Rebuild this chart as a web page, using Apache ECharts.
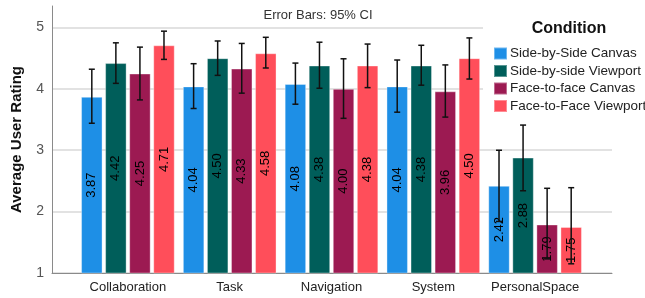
<!DOCTYPE html>
<html>
<head>
<meta charset="utf-8">
<script src="https://cdn.jsdelivr.net/npm/echarts@6/dist/echarts.min.js"></script>
<style>
  html, body { margin: 0; padding: 0; background: #fff; }
  #chart { width: 645px; height: 298px; }
</style>
</head>
<body>
<div id="chart"></div>
<script>
// categories and condition names
const categories = ['Collaboration', 'Task', 'Navigation', 'System', 'PersonalSpace'];
const conditions = ['Side-by-Side Canvas', 'Side-by-side Viewport', 'Face-to-face Canvas', 'Face-to-Face Viewport'];
const colors = ['#1e8fe6', '#005e5a', '#9c1a52', '#ff4e5a'];

// mean ratings per condition
const sbsCanvas = [3.87, 4.04, 4.08, 4.04, 2.42];
const sbsViewport = [4.42, 4.50, 4.38, 4.38, 2.88];
const f2fCanvas = [4.25, 4.33, 4.00, 3.96, 1.79];
const f2fViewport = [4.71, 4.58, 4.38, 4.50, 1.75];

// 95% CI bounds
const sbsCanvasLow = [3.44, 3.68, 3.75, 3.62, 1.84];
const sbsCanvasHigh = [4.32, 4.41, 4.42, 4.47, 3.00];
const sbsViewportLow = [4.09, 4.22, 4.01, 4.06, 2.34];
const sbsViewportHigh = [4.75, 4.78, 4.76, 4.71, 3.41];
const f2fCanvasLow = [3.82, 3.93, 3.52, 3.54, 1.23];
const f2fCanvasHigh = [4.68, 4.74, 4.49, 4.39, 2.38];
const f2fViewportLow = [4.48, 4.34, 4.02, 4.16, 1.15];
const f2fViewportHigh = [4.94, 4.84, 4.73, 4.83, 2.39];

const means = [sbsCanvas, sbsViewport, f2fCanvas, f2fViewport];
const lows = [sbsCanvasLow, sbsViewportLow, f2fCanvasLow, f2fViewportLow];
const highs = [sbsCanvasHigh, sbsViewportHigh, f2fCanvasHigh, f2fViewportHigh];

const FONT = '"Liberation Sans", Arial, sans-serif';
const CAT_GAP = 0.08, BAR_GAP = 0.12;

const chart = echarts.init(document.getElementById('chart'));

const barSeries = conditions.map((name, k) => ({
  name: name,
  type: 'bar',
  xAxisIndex: 1,
  yAxisIndex: 1,
  data: means[k],
  barGap: (BAR_GAP * 100) + '%',
  barCategoryGap: (CAT_GAP * 100) + '%',
  itemStyle: { color: colors[k], borderColor: 'rgba(255,255,255,0.35)', borderWidth: 1 },
  label: {
    show: true,
    position: 'inside',
    rotate: 90,
    fontFamily: FONT,
    fontSize: 13,
    color: '#000',
    formatter: p => p.value.toFixed(2)
  },
  z: 2
}));

const errSeries = conditions.map((name, k) => ({
  type: 'custom',
  xAxisIndex: 1,
  yAxisIndex: 1,
  z: 5,
  data: categories.map((c, i) => [i, lows[k][i], highs[k][i]]),
  renderItem: (params, api) => {
    const i = api.value(0);
    const band = api.size([1, 0])[0];
    const bw = band * (1 - CAT_GAP) / (4 + 3 * BAR_GAP);
    const off = (k - 1.5) * bw * (1 + BAR_GAP);
    const hi = api.coord([i, api.value(2)]);
    const lo = api.coord([i, api.value(1)]);
    const x = hi[0] + off;
    const cap = 3;
    const style = { stroke: '#111', lineWidth: 1.5 };
    return {
      type: 'group',
      children: [
        { type: 'line', shape: { x1: x, y1: hi[1], x2: x, y2: lo[1] }, style: style },
        { type: 'line', shape: { x1: x - cap, y1: hi[1], x2: x + cap, y2: hi[1] }, style: style },
        { type: 'line', shape: { x1: x - cap, y1: lo[1], x2: x + cap, y2: lo[1] }, style: style }
      ]
    };
  }
}));

const option = {
  animation: false,
  backgroundColor: '#fff',
  grid: [
    { left: 52, right: 33, top: 6, bottom: 25 },
    { left: 77, right: 59, top: 6, bottom: 25 }
  ],
  xAxis: [
    {
      gridIndex: 0, type: 'value', min: 0, max: 1,
      axisLine: { show: true, lineStyle: { color: '#8a8a8a', width: 1 } },
      axisTick: { show: false }, axisLabel: { show: false }, splitLine: { show: false }
    },
    {
      gridIndex: 1, type: 'category', data: categories,
      axisLine: { show: false }, axisTick: { show: false },
      axisLabel: { fontFamily: FONT, fontSize: 13, color: '#222', margin: 8, interval: 0 }
    }
  ],
  yAxis: [
    {
      gridIndex: 0, type: 'value', min: 1, max: 5.35, interval: 1,
      name: 'Average User Rating', nameLocation: 'middle', nameGap: 28,
      nameTextStyle: { fontFamily: FONT, fontSize: 15, fontWeight: 'bold', color: '#111' },
      axisLine: { show: true, lineStyle: { color: '#8a8a8a', width: 1 } },
      axisTick: { show: false },
      axisLabel: { fontFamily: FONT, fontSize: 14, color: '#555', margin: 8, showMaxLabel: false },
      splitLine: { show: true, showMaxLine: false, lineStyle: { color: '#d8d8d8', width: 1.5 } }
    },
    {
      gridIndex: 1, type: 'value', min: 1, max: 5.35, interval: 1, show: false,
      splitLine: { show: false }
    }
  ],
  legend: {
    data: conditions,
    orient: 'vertical',
    left: 488,
    top: 41,
    icon: 'rect',
    itemWidth: 13,
    itemHeight: 12,
    itemGap: 2.5,
    textStyle: { fontFamily: FONT, fontSize: 13.5, lineHeight: 15, color: '#222', padding: [0, 0, 0, -2] }
  },
  graphic: [
    { type: 'rect', z: 3, shape: { x: 483, y: 8, width: 162, height: 112 }, style: { fill: '#fff' } },
    {
      type: 'text', z: 6,
      style: { text: 'Condition', x: 569, y: 29, textAlign: 'center', textVerticalAlign: 'middle',
               font: 'bold 16px "Liberation Sans", Arial, sans-serif', fill: '#111' }
    },
    {
      type: 'text', z: 6,
      style: { text: 'Error Bars: 95% CI', x: 318, y: 15, textAlign: 'center', textVerticalAlign: 'middle',
               font: '13px "Liberation Sans", Arial, sans-serif', fill: '#333' }
    }
  ],
  series: barSeries.concat(errSeries)
};

chart.setOption(option);
</script>
</body>
</html>
